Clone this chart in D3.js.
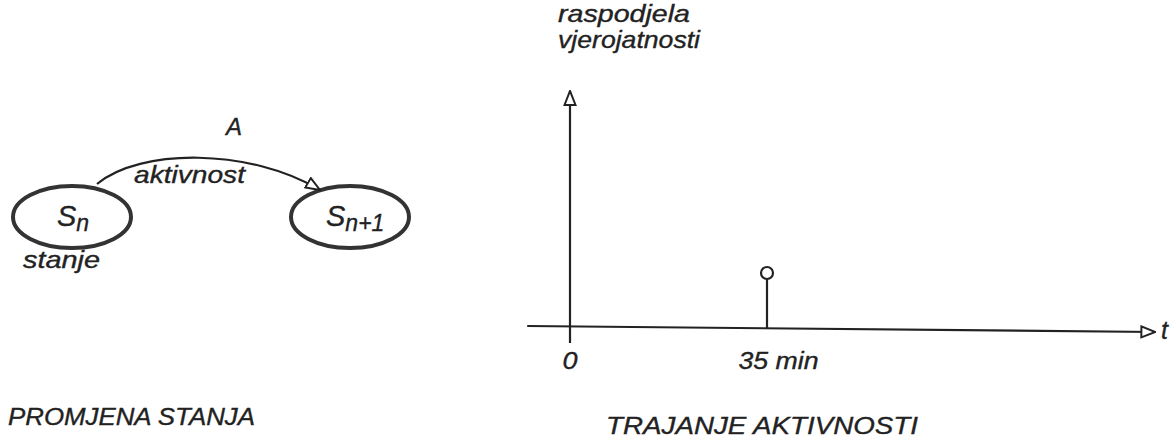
<!DOCTYPE html>
<html>
<head>
<meta charset="utf-8">
<script src="https://cdn.jsdelivr.net/npm/d3@7"></script>
<style>
  body { margin: 0; background: #fff; }
  text { font-family: 'Liberation Sans', Arial, sans-serif; font-style: italic; fill: #222; stroke: #222; stroke-width: 0.35px; }
</style>
</head>
<body>
<div id="container"></div>
<script>
//DATA
const states = ['S', 'S']
const stateSubs = ['n', 'n+1']
const activityName = 'A'
const activityLabel = 'aktivnost'
const stateLabel = 'stanje'
const durations = [35] //min
const probabilities = [1]
const tickValues = [0, 35]
const tickLabels = ['0', '35 min']
const yLabel = ['raspodjela', 'vjerojatnosti']
const xLabel = 't'
const titles = ['PROMJENA STANJA', 'TRAJANJE AKTIVNOSTI']

//BOX
const w = 1176
const h = 446
const ink = '#222'

const svg = d3.select('#container')
    .append('svg')
    .attr('width', w)
    .attr('height', h)

//stretch a label to the width it has in the scan
function fit(sel, len) {
    sel.attr('textLength', len).attr('lengthAdjust', 'spacingAndGlyphs')
    return sel
}

//MARKERS
const defs = svg.append('defs')
defs.append('marker')
    .attr('id', 'open')
    .attr('viewBox', '0 0 16 14')
    .attr('refX', 15)
    .attr('refY', 7)
    .attr('markerWidth', 16)
    .attr('markerHeight', 14)
    .attr('markerUnits', 'userSpaceOnUse')
    .attr('orient', 'auto')
    .append('path')
    .attr('d', 'M1,1.5 L15,7 L1,12.5 Z')
    .attr('fill', '#fff')
    .attr('stroke', ink)
    .attr('stroke-width', 2)

//LEFT: STATE CHANGE
const stateScale = d3.scalePoint()
    .domain(d3.range(states.length))
    .range([72, 350])

const nodes = svg.append('g').attr('id', 'states')
nodes.selectAll('ellipse')
    .data(states)
    .enter()
    .append('ellipse')
    .attr('cx', (d, i) => stateScale(i))
    .attr('cy', 217)
    .attr('rx', 59)
    .attr('ry', 31)
    .attr('fill', 'none')
    .attr('stroke', '#333')
    .attr('stroke-width', 4)

const labels = nodes.selectAll('text.state')
    .data(states)
    .enter()
    .append('text')
    .attr('class', 'state')
    .attr('x', (d, i) => stateScale(i) - (i ? 24 : 15))
    .attr('y', 226)
    .attr('font-size', 29)
labels.append('tspan').text(d => d)
labels.append('tspan')
    .attr('dy', 5)
    .attr('font-size', 23)
    .text((d, i) => stateSubs[i])

//transition arc
const arc = d3.path()
arc.moveTo(97, 184)
arc.bezierCurveTo(140, 148, 250, 148, 320, 190)
svg.append('path')
    .attr('d', arc.toString())
    .attr('fill', 'none')
    .attr('stroke', ink)
    .attr('stroke-width', 2.2)
    .attr('marker-end', 'url(#open)')

svg.append('text')
    .attr('x', 234)
    .attr('y', 135)
    .attr('text-anchor', 'middle')
    .attr('font-size', 24)
    .text(activityName)

fit(svg.append('text')
    .attr('x', 134)
    .attr('y', 183)
    .attr('font-size', 24)
    .text(activityLabel), 111)

fit(svg.append('text')
    .attr('x', 23)
    .attr('y', 268)
    .attr('font-size', 24)
    .text(stateLabel), 77)

//RIGHT: DURATION DISTRIBUTION
const xscale = d3.scaleLinear()
    .domain([0, 35])
    .range([570, 767])

const yscale = d3.scaleLinear()
    .domain([0, 1])
    .range([328, 273])

//axes
svg.append('line')
    .attr('x1', xscale(-7.6))
    .attr('x2', xscale(104))
    .attr('y1', yscale(0) - 2)
    .attr('y2', yscale(0) + 4)
    .attr('stroke', ink)
    .attr('stroke-width', 2.2)
    .attr('marker-end', 'url(#open)')

svg.append('line')
    .attr('x1', xscale(0))
    .attr('x2', xscale(0))
    .attr('y1', yscale(0) + 15)
    .attr('y2', 91)
    .attr('stroke', ink)
    .attr('stroke-width', 2.2)
    .attr('marker-end', 'url(#open)')

const xaxis = d3.axisBottom()
    .scale(xscale)
    .tickValues(tickValues)
    .tickFormat((d, i) => tickLabels[i])
    .tickSize(0)
    .tickPadding(24)

const gx = svg.append('g')
    .attr('class', 'x axis')
    .attr('transform', 'translate(0,' + yscale(0) + ')')
    .call(xaxis)
gx.select('.domain').remove()
gx.selectAll('text')
    .attr('font-family', null)
    .attr('fill', ink)
    .style('font-size', '24px')
    .attr('text-anchor', 'start')
    .attr('dx', (d, i) => i ? -29 : -8)
    .attr('textLength', (d, i) => i ? 80 : 15)
    .attr('lengthAdjust', 'spacingAndGlyphs')

//stems
svg.append('g')
    .selectAll('line')
    .data(durations)
    .enter()
    .append('line')
    .attr('x1', d => xscale(d))
    .attr('x2', d => xscale(d))
    .attr('y1', yscale(0))
    .attr('y2', (d, i) => yscale(probabilities[i]) + 6)
    .attr('stroke', ink)
    .attr('stroke-width', 2.2)

svg.append('g')
    .selectAll('circle')
    .data(durations)
    .enter()
    .append('circle')
    .attr('cx', d => xscale(d))
    .attr('cy', (d, i) => yscale(probabilities[i]))
    .attr('r', 6)
    .attr('fill', '#fff')
    .attr('stroke', ink)
    .attr('stroke-width', 2.2)

svg.append('text')
    .attr('x', 1161)
    .attr('y', 339)
    .attr('font-size', 25)
    .text(xLabel)

svg.append('text')
    .selectAll('tspan')
    .data(yLabel)
    .enter()
    .append('tspan')
    .attr('x', 558)
    .attr('y', (d, i) => 22 + i * 26)
    .attr('font-size', 24)
    .attr('textLength', (d, i) => i ? 142 : 132)
    .attr('lengthAdjust', 'spacingAndGlyphs')
    .text(d => d)

//TITLES
svg.selectAll('text.title')
    .data(titles)
    .enter()
    .append('text')
    .attr('class', 'title')
    .attr('x', (d, i) => i ? 606 : 8)
    .attr('y', (d, i) => i ? 434 : 425)
    .attr('font-size', 24)
    .attr('textLength', (d, i) => i ? 312 : 247)
    .attr('lengthAdjust', 'spacingAndGlyphs')
    .text(d => d)
</script>
</body>
</html>
